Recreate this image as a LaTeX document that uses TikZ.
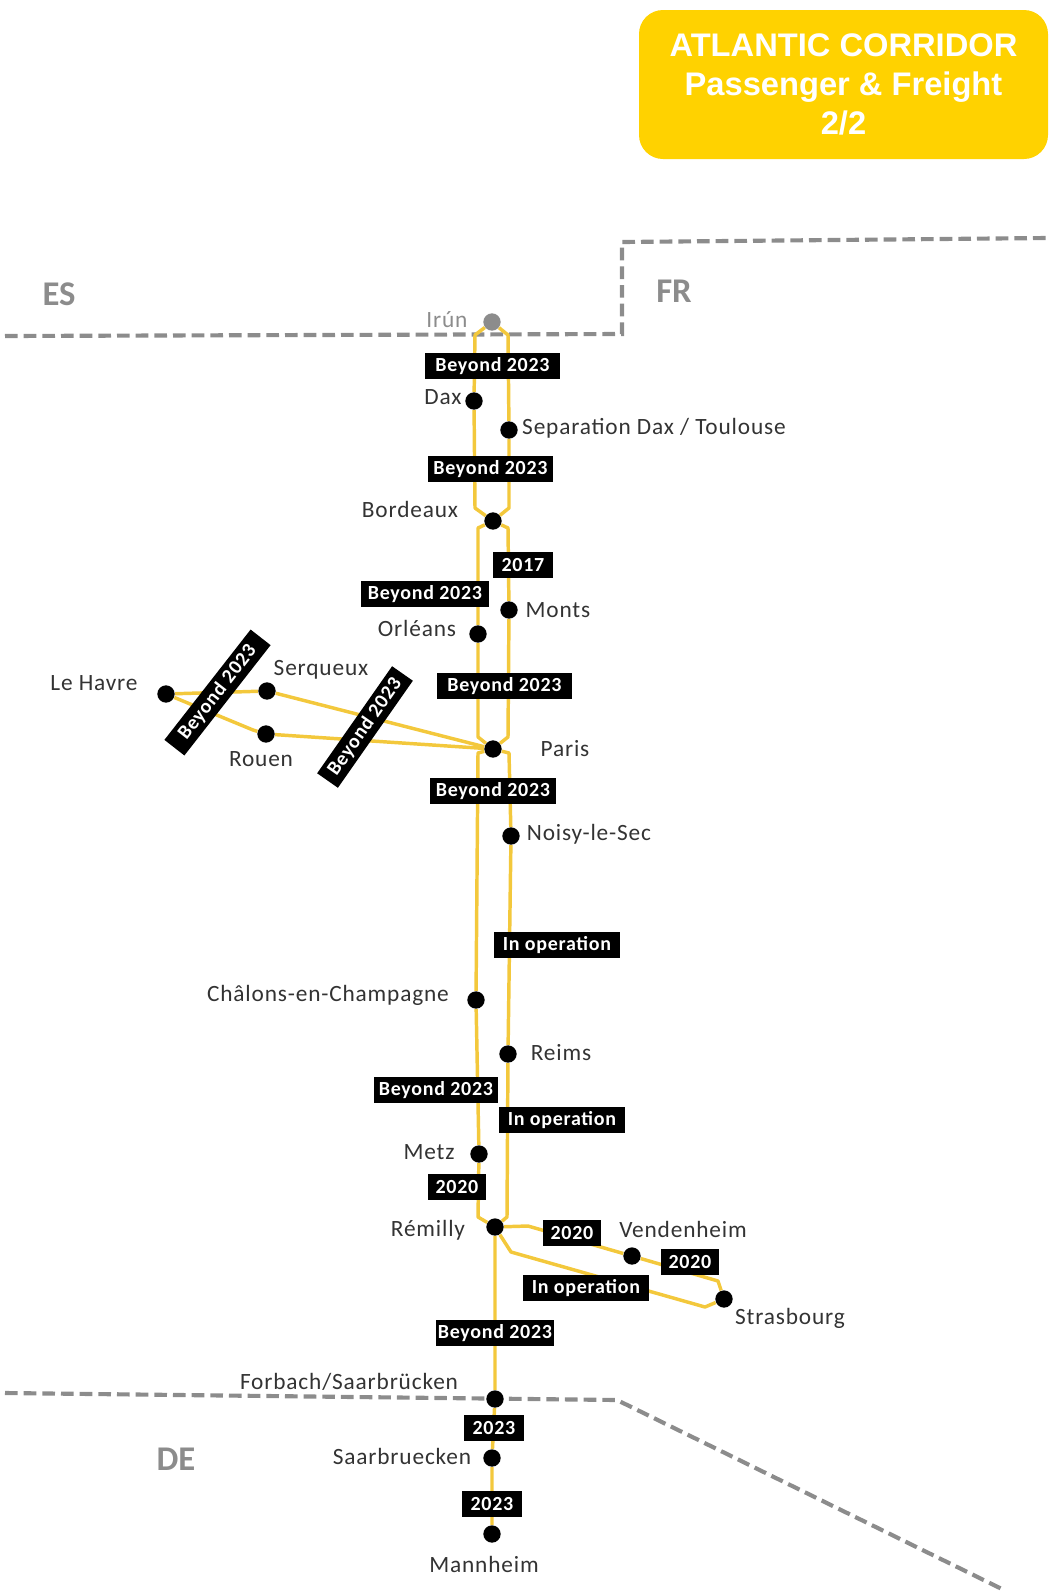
\documentclass[tikz,border=0pt]{standalone}
\usepackage{fontspec}
\setmainfont{Carlito}
\newfontfamily\labelfont[LetterSpace=3.6]{Carlito}
\newfontfamily\titlefont{Liberation Sans}
\usepackage{tikz}

\definecolor{corridor}{HTML}{F3C83C}
\definecolor{titlebg}{HTML}{FFD200}
\definecolor{bordergray}{HTML}{8C8C8C}

\begin{document}
\begin{tikzpicture}[x=0.75pt,y=-0.75pt,semithick]

    \tikzstyle{station}=[circle,fill=black,inner sep=0pt,minimum size=13pt]
    \tikzstyle{place}=[text=black!80,font=\labelfont\fontsize{17.5}{19}\selectfont,inner sep=0pt]
    \tikzstyle{phase}=[fill=black,text=white,font=\labelfont\fontsize{15}{17}\selectfont\bfseries,inner sep=0pt,minimum height=19pt,align=center]
    \tikzstyle{country}=[text=bordergray,font=\fontsize{26}{28}\selectfont\bfseries,inner sep=0pt]
    \tikzstyle{track}=[draw=corridor,line width=2.6pt,line join=round]
    \tikzstyle{border}=[draw=bordergray,line width=3.1pt,dash pattern=on 9.5pt off 4.5pt]

    \useasboundingbox (0,0) rectangle (1057,1593);

    % title
    \node[fill=titlebg,rounded corners=18pt,minimum width=306.75pt,minimum height=111.75pt,align=center,text=white,font=\titlefont\fontsize{24.5}{29.5}\selectfont\bfseries] (title) at (843.5,84.5) {ATLANTIC CORRIDOR\\Passenger \& Freight\\2/2};

    % borders
    \coordinate (b1) at (5,336);
    \coordinate (b2) at (622,334);
    \coordinate (b3) at (622,242);
    \coordinate (b4) at (1047,238);
    \coordinate (b5) at (5,1393);
    \coordinate (b6) at (617,1400);
    \coordinate (b7) at (1004,1590);
    \draw[border] (b1) -- (b2) -- (b3) -- (b4);
    \draw[border] (b5) -- (b6) -- (b7);

    \node[country] (es) at (59,294) {ES};
    \node[country] (fr) at (674,291) {FR};
    \node[country] (de) at (176,1459) {DE};

    % stations
    \node[station,fill=bordergray] (irun) at (492,322) {};
    \node[station] (dax)  at (474,401)  {};
    \node[station] (sep)  at (509,430)  {};
    \node[station] (bord) at (493,521)  {};
    \node[station] (mont) at (509,610)  {};
    \node[station] (orl)  at (478,634)  {};
    \node[station] (hav)  at (166,694)  {};
    \node[station] (serq) at (267,691)  {};
    \node[station] (rou)  at (266,734)  {};
    \node[station] (par)  at (493,749)  {};
    \node[station] (noi)  at (511,836)  {};
    \node[station] (cha)  at (476,1000) {};
    \node[station] (rei)  at (508,1054) {};
    \node[station] (met)  at (479,1154) {};
    \node[station] (rem)  at (495,1227) {};
    \node[station] (ven)  at (632,1256) {};
    \node[station] (str)  at (724,1299) {};
    \node[station] (forb) at (495,1399) {};
    \node[station] (saa)  at (492,1458) {};
    \node[station] (man)  at (492,1534) {};

    % bends of the tracks
    \coordinate (c1) at (475,335);
    \coordinate (c2) at (475,508);
    \coordinate (c3) at (508,335);
    \coordinate (c4) at (509,508);
    \coordinate (c5) at (478,528);
    \coordinate (c6) at (478,737);
    \coordinate (c7) at (508,528);
    \coordinate (c8) at (508,737);
    \coordinate (c9) at (478,753);
    \coordinate (c10) at (478,1217);
    \coordinate (c11) at (509,753);
    \coordinate (c12) at (507,1217);
    \coordinate (c13) at (528,1226);
    \coordinate (c14) at (718,1281);
    \coordinate (c15) at (511,1252);
    \coordinate (c16) at (705,1307);
    \coordinate (c17) at (253,730);

    \draw[track] (irun) -- (c1) -- (dax) -- (c2) -- (bord);
    \draw[track] (irun) -- (c3) -- (sep) -- (c4) -- (bord);
    \draw[track] (bord) -- (c5) -- (orl) -- (c6) -- (par);
    \draw[track] (bord) -- (c7) -- (mont) -- (c8) -- (par);
    \draw[track] (par) -- (c9) -- (cha) -- (met) -- (c10) -- (rem);
    \draw[track] (par) -- (c11) -- (noi) -- (rei) -- (c12) -- (rem);
    \draw[track] (rem) -- (c13) -- (ven) -- (c14) -- (str);
    \draw[track] (rem) -- (c15) -- (c16) -- (str);
    \draw[track] (hav) -- (serq) -- (par);
    \draw[track] (hav) -- (c17) -- (rou) -- (par);
    \draw[track] (rem) -- (forb) -- (saa) -- (man);

    % station names
    \node[place,text=bordergray] (lirun) at (447,320) {Irún};
    \node[place] (ldax)  at (443,397)    {Dax};
    \node[place] (lsep)  at (654,428)    {Separation Dax / Toulouse};
    \node[place] (lbord) at (410,509)    {Bordeaux};
    \node[place] (lmont) at (558,610)    {Monts};
    \node[place] (lorl)  at (417,628)    {Orléans};
    \node[place] (lhav)  at (94,683)     {Le Havre};
    \node[place] (lserq) at (321,670)    {Serqueux};
    \node[place] (lrou)  at (261,759)    {Rouen};
    \node[place] (lpar)  at (565,749)    {Paris};
    \node[place] (lnoi)  at (589,834)    {Noisy-le-Sec};
    \node[place] (lcha)  at (328,995)    {Châlons-en-Champagne};
    \node[place] (lrei)  at (561,1053)   {Reims};
    \node[place] (lmet)  at (429,1152)   {Metz};
    \node[place] (lrem)  at (428,1230)   {Rémilly};
    \node[place] (lven)  at (683,1229)   {Vendenheim};
    \node[place] (lstr)  at (790,1318)   {Strasbourg};
    \node[place] (lforb) at (349,1382)   {Forbach/Saarbrücken};
    \node[place] (lsaa)  at (402,1456)   {Saarbruecken};
    \node[place] (lman)  at (484,1564)   {Mannheim};

    % commissioning dates
    \node[phase,minimum width=101pt] (p1)  at (492.5,366) {Beyond 2023};
    \node[phase,minimum width=94pt]  (p2)  at (490.5,469) {Beyond 2023};
    \node[phase,minimum width=45pt]  (p3)  at (523,565)   {2017};
    \node[phase,minimum width=96pt]  (p4)  at (425,594)   {Beyond 2023};
    \node[phase,minimum width=101pt] (p5)  at (504.5,686) {Beyond 2023};
    \node[phase,minimum width=94pt]  (p6)  at (493,791)   {Beyond 2023};
    \node[phase,minimum width=94pt]  (p7)  at (557,945)   {In operation};
    \node[phase,minimum width=93pt]  (p8)  at (436,1090)  {Beyond 2023};
    \node[phase,minimum width=95pt]  (p9)  at (562,1120)  {In operation};
    \node[phase,minimum width=44pt]  (p10) at (457,1187)  {2020};
    \node[phase,minimum width=44pt]  (p11) at (572,1233)  {2020};
    \node[phase,minimum width=44pt]  (p12) at (690,1262)  {2020};
    \node[phase,minimum width=95pt]  (p13) at (586,1288)  {In operation};
    \node[phase,minimum width=88pt]  (p14) at (495,1333)  {Beyond 2023};
    \node[phase,minimum width=45pt]  (p15) at (494,1428)  {2023};
    \node[phase,minimum width=45pt]  (p16) at (492,1504)  {2023};
    \node[phase,minimum width=105pt,rotate=52] (p17) at (217.5,692.5) {Beyond 2023};
    \node[phase,minimum width=98pt,rotate=55]  (p18) at (365,727)     {Beyond 2023};

\end{tikzpicture}
\end{document}
